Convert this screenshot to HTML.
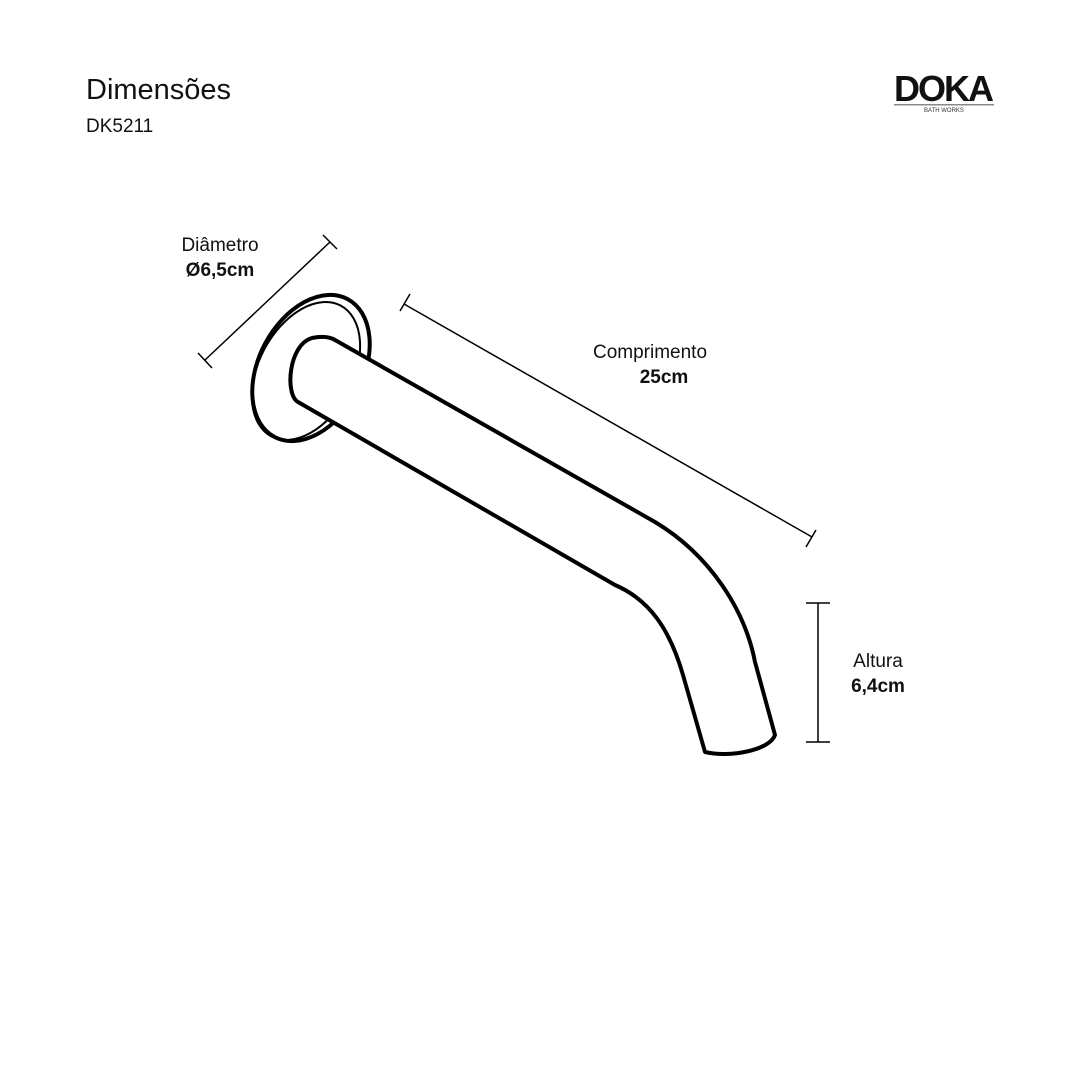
<!DOCTYPE html>
<html><head><meta charset="utf-8"><style>
body{margin:0;background:#fff;}
.t{font-family:"Liberation Sans",sans-serif;}
</style></head><body>
<svg width="1080" height="1080" xmlns="http://www.w3.org/2000/svg">
<rect width="1080" height="1080" fill="#fff"/>
<text x="86" y="99" class="t" font-size="29" fill="#111">Dimensões</text>
<text x="86" y="132" class="t" font-size="19" fill="#111">DK5211</text>
<text x="894" y="101" class="t" font-size="36" font-weight="bold" fill="#111" letter-spacing="-2">DOKA</text>
<rect x="894" y="104" width="100" height="1.5" fill="#888"/>
<text x="944" y="112" class="t" font-size="6" fill="#333" text-anchor="middle">BATH WORKS</text>

<!-- flange -->
<ellipse cx="311" cy="368" rx="52" ry="78" transform="rotate(28 311 368)" fill="#fff" stroke="#000" stroke-width="4"/>
<ellipse cx="306" cy="371" rx="47" ry="74" transform="rotate(28 306 371)" fill="none" stroke="#000" stroke-width="2"/>
<!-- pipe -->
<path d="M335,340 L655,522 C710,555 745,610 755,662 L775,735 C770,750 730,758 705,752 L683,675 C670,630 650,600 615,585 L298,402 C285,395 288,345 312,338 C322,336 330,337 335,340 Z" fill="#fff" stroke="#000" stroke-width="4" stroke-linejoin="round"/>

<!-- dimension lines -->
<g stroke="#000" stroke-width="1.5">
<line x1="205" y1="360" x2="330" y2="242"/>
<line x1="198" y1="353" x2="212" y2="368"/>
<line x1="323" y1="235" x2="337" y2="249"/>
<line x1="404" y1="304" x2="812" y2="537"/>
<line x1="400" y1="311" x2="410" y2="294"/>
<line x1="806" y1="547" x2="816" y2="530"/>
<line x1="818" y1="603" x2="818" y2="742"/>
<line x1="806" y1="603" x2="830" y2="603"/>
<line x1="806" y1="742" x2="830" y2="742"/>
</g>
<g class="t" fill="#111" text-anchor="middle">
<text x="220" y="251" font-size="19">Diâmetro</text>
<text x="220" y="276" font-size="19" font-weight="bold">Ø6,5cm</text>
<text x="650" y="358" font-size="19">Comprimento</text>
<text x="664" y="383" font-size="19" font-weight="bold">25cm</text>
<text x="878" y="667" font-size="19">Altura</text>
<text x="878" y="692" font-size="19" font-weight="bold">6,4cm</text>
</g>
</svg>
</body></html>
